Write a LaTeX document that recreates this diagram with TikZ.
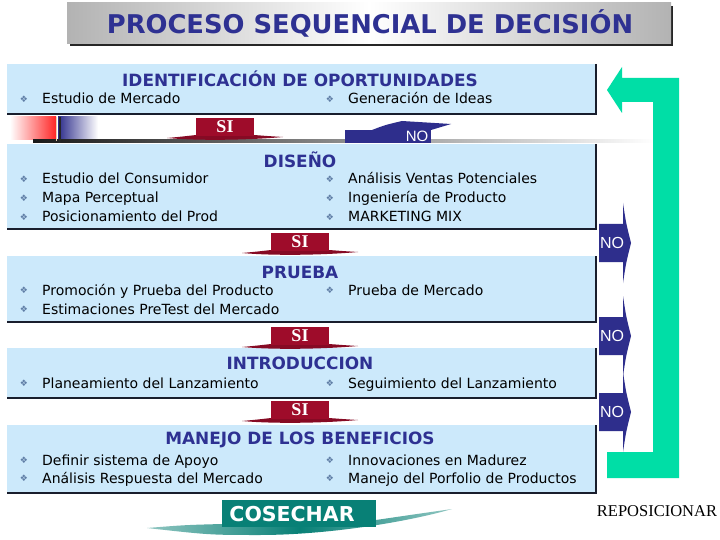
\documentclass[tikz,border=0pt]{standalone}
\usepackage{fontspec}
\setmainfont{DejaVu Sans}
\newfontfamily\serifx{Liberation Serif}
\newfontfamily\arialx{Liberation Sans}
\usetikzlibrary{calc}
\definecolor{boxblue}{RGB}{204,233,251}
\definecolor{titleblue}{RGB}{46,49,146}
\definecolor{nobl}{RGB}{46,46,140}
\definecolor{sired}{RGB}{158,12,42}
\definecolor{teal2}{RGB}{8,128,118}
\definecolor{greenarr}{RGB}{0,222,166}
\definecolor{bulletc}{RGB}{95,125,165}
\definecolor{edgec}{RGB}{25,30,45}
\tikzset{
  stagebox/.style={fill=boxblue, draw=none, anchor=north west, minimum width=589pt, inner sep=0pt},
  boxedge/.style={draw=edgec, line width=2pt},
  stagetitle/.style={text=titleblue, font=\bfseries\fontsize{16.9}{18}\selectfont, inner sep=0pt},
  itemtext/.style={anchor=base west, font=\fontsize{14}{15}\selectfont, inner sep=0pt},
  bul/.style={text=bulletc, font=\fontsize{9}{10}\selectfont, inner sep=0pt},
  sibox/.style={fill=sired, text=white, font=\serifx\bfseries\fontsize{18}{19}\selectfont, minimum width=58pt, minimum height=18pt, inner sep=0pt},
  notext/.style={text=white, font=\arialx\fontsize{16}{17}\selectfont, inner sep=0pt}
}
\newcommand\myitem[4]{%
  \node[bul] (#1b) at (#2-18,#3) {❖};
  \node[itemtext] (#1) at (#2,#3+5) {#4};}
\newcommand\mysiban[3]{%
  \fill[sired!85!black] (#2-58,#3+11) .. controls (#2-42,#3+9.5) .. (#2-29,#3+8) -- (#2+29,#3+8) .. controls (#2+42,#3+9) .. (#2+58,#3+10) .. controls (#2+25,#3+13) and (#2-25,#3+14) .. cycle;
  \node[sibox] (#1) at (#2,#3) {SI};}
\newcommand\mynoban[2]{%
  \fill[nobl] (599,#2-19) -- (623,#2-19) -- (623,#2-40) .. controls (626,#2-20) .. (631,#2) .. controls (626,#2+20) .. (623,#2+40) -- (623,#2+19) -- (599,#2+19) -- cycle;
  \node[notext] (#1) at (612,#2) {NO};}
\begin{document}
\begin{tikzpicture}[x=1pt,y=-1pt]
\useasboundingbox (0,0) rectangle (720,540);
\fill[white] (0,0) rectangle (720,540);
% title bar
\fill[black!85] (70,6) rectangle (673,46);
\shade[left color=gray!60, right color=gray!60, middle color=white] (67,3) rectangle (671,44);
\node[text=titleblue, font=\bfseries\fontsize{25.8}{27}\selectfont, inner sep=0pt] (title) at (370,23) {PROCESO SEQUENCIAL DE DECISIÓN};

% stage boxes
\node[stagebox, minimum height=50pt] (b1) at (7,64) {};
\node[stagebox, minimum height=85pt] (b2) at (7,144) {};
\node[stagebox, minimum height=66pt] (b3) at (7,256) {};
\node[stagebox, minimum height=50pt] (b4) at (7,348) {};
\node[stagebox, minimum height=68pt] (b5) at (7,425) {};
\foreach \b in {b1,b2,b3,b4,b5}{
  \draw[boxedge] (\b.north east) -- (\b.south east) -- (\b.south west);
}

% box 1
\node[stagetitle] (t1) at (300,79) {IDENTIFICACIÓN DE OPORTUNIDADES};
\myitem{i11}{42}{99}{Estudio de Mercado}
\myitem{i12}{348}{99}{Generación de Ideas}
% box 2
\node[stagetitle] (t2) at (300,160) {DISEÑO};
\myitem{i21}{42}{179}{Estudio del Consumidor}
\myitem{i22}{42}{198}{Mapa Perceptual}
\myitem{i23}{42}{217}{Posicionamiento del Prod}
\myitem{i24}{348}{179}{Análisis Ventas Potenciales}
\myitem{i25}{348}{198}{Ingeniería de Producto}
\myitem{i26}{348}{217}{MARKETING MIX}
% box 3
\node[stagetitle] (t3) at (300,272) {PRUEBA};
\myitem{i31}{42}{290}{Promoción y Prueba del Producto}
\myitem{i32}{42}{309}{Estimaciones PreTest del Mercado}
\myitem{i33}{348}{290}{Prueba de Mercado}
% box 4
\node[stagetitle] (t4) at (300,363) {INTRODUCCION};
\myitem{i41}{42}{383}{Planeamiento del Lanzamiento}
\myitem{i42}{348}{383}{Seguimiento del Lanzamiento}
% box 5
\node[stagetitle] (t5) at (300,440) {MANEJO DE LOS BENEFICIOS};
\myitem{i51}{42}{460}{Definir sistema de Apoyo}
\myitem{i52}{42}{478}{Análisis Respuesta del Mercado}
\myitem{i53}{348}{460}{Innovaciones en Madurez}
\myitem{i54}{348}{478}{Manejo del Porfolio de Productos}

% decoration between box 1 and 2
\shade[left color=white, right color=red!85] (10,117) rectangle (56,140);
\shade[left color=nobl, right color=white] (58,117) rectangle (98,140);
\shade[left color=black!90, right color=white] (33,139.5) rectangle (655,142.5);
\draw[line width=2pt, black!85] (60,117) -- (60,143);
\draw[line width=1pt, brown!40] (56,117) -- (56,141);

% SI banners
\mysiban{si1}{225}{127}
\mysiban{si2}{300}{242}
\mysiban{si3}{300}{336}
\mysiban{si4}{300}{410}

% NO banner (top)
\fill[nobl] (372,130) .. controls (385,125) .. (402,121) -- (451,124) -- (431,130) -- cycle;
\fill[nobl] (345,130) rectangle (431,143);
\node[notext, font=\arialx\fontsize{15}{16}\selectfont] (no0) at (417,136) {NO};

% green return arrow
\fill[greenarr] (607,90) -- (622,67) -- (622,78) -- (679,78) -- (679,478) -- (607,478) -- (607,452) -- (653,452) -- (653,102) -- (622,102) -- (622,113) -- cycle;

% NO banners (right)
\mynoban{no1}{243}
\mynoban{no2}{336}
\mynoban{no3}{412}

% COSECHAR
\shade[left color=teal2!45, right color=teal2!45, middle color=teal2] (147,528) .. controls (185,525) .. (222,524) -- (376,520) .. controls (410,515) .. (452,509) .. controls (400,524) and (320,535) .. (260,535) .. controls (210,535) .. cycle;
\fill[teal2] (222,500) rectangle (376,527);
\node[text=white, font=\bfseries\fontsize{20.5}{22}\selectfont, inner sep=0pt] (cos) at (292,514) {COSECHAR};

% REPOSICIONAR
\node[font=\serifx\fontsize{16.5}{18}\selectfont, inner sep=0pt] (repo) at (657,511) {REPOSICIONAR};
\end{tikzpicture}
\end{document}
